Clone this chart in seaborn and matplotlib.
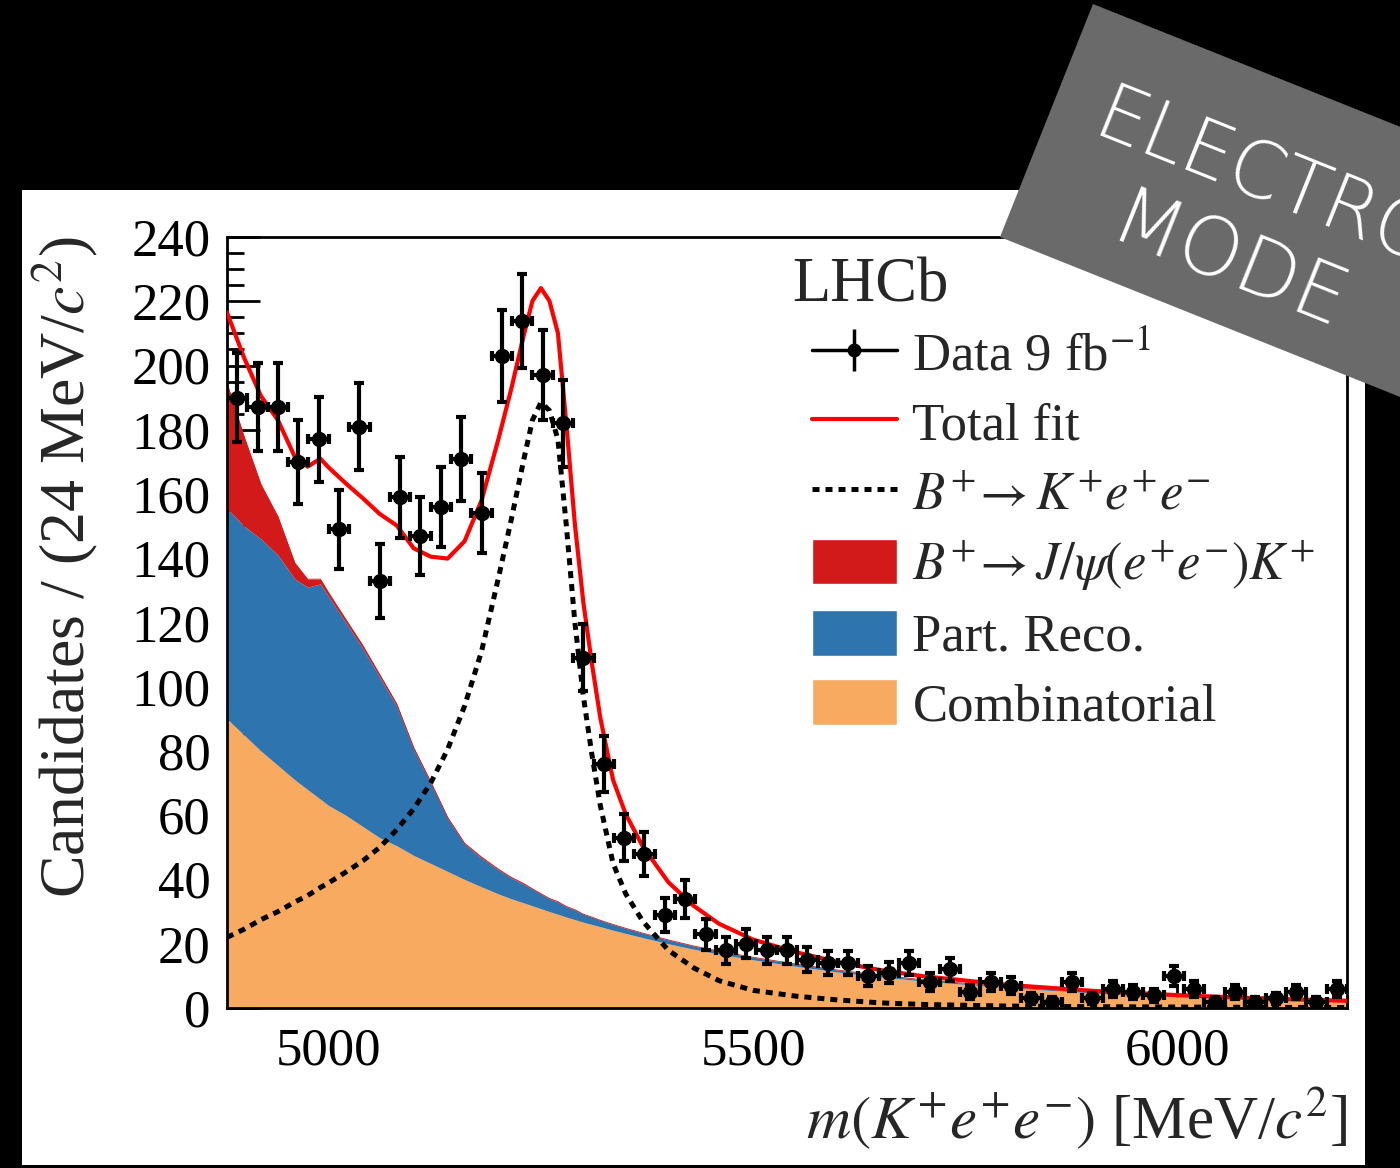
import numpy as np
import pandas as pd
import matplotlib
matplotlib.use('Agg')
import matplotlib.pyplot as plt
import seaborn as sns
from matplotlib.patches import Rectangle, Polygon, Patch
from matplotlib.lines import Line2D
from matplotlib.ticker import MultipleLocator

# ---- data: 24 MeV bins from 4880 to 6200 ----
bin_width = 24
bin_centres = np.arange(4892, 6200, bin_width)
counts = [190, 187, 187, 170, 177, 149, 181, 133, 159, 147,
          156, 171, 154, 203, 214, 197, 182, 109, 76, 53,
          48, 29, 34, 23, 18, 20, 18, 18, 15, 14,
          14, 10, 11, 14, 8, 12, 5, 8, 7, 3,
          2, 8, 3, 6, 5, 4, 10, 6, 2, 5,
          2, 3, 5, 2, 6]

# ---- fit components ----
mass = [4880, 4900, 4920, 4940, 4960, 4975, 4990, 5000, 5020, 5040,
        5060, 5080, 5100, 5120, 5140, 5160, 5180, 5200, 5215, 5230,
        5240, 5250, 5260, 5270, 5280, 5290, 5300, 5310, 5320, 5335,
        5350, 5370, 5400, 5430, 5460, 5500, 5550, 5600, 5650, 5700,
        5800, 5900, 6000, 6100, 6200]
comb = [90, 85, 80, 75.5, 71, 68, 65, 63, 60, 56.5,
        53, 50.5, 47.5, 45, 42.5, 40, 37.7, 35.5, 34, 32.7,
        31.8, 30.9, 30, 29.2, 28.3, 27.5, 26.7, 26, 25.3, 24.2,
        23.2, 21.9, 20, 18.3, 16.8, 15, 13, 11.2, 9.7, 8.4,
        6.3, 4.7, 3.5, 2.6, 2.0]
part_reco = [65.5, 65, 66, 65.5, 62.5, 63, 67, 65, 60, 55.5,
             50, 43.5, 33, 25, 16.5, 11, 9, 7.5, 6.5, 5.8,
             5.2, 4.6, 4, 3.8, 3.2, 3, 2.5, 2.3, 2, 1.8,
             1.6, 1.4, 1.2, 1, 0.9, 0.8, 0.7, 0.6, 0.5, 0.4,
             0.3, 0.25, 0.2, 0.15, 0.1]
jpsi = [39, 28, 17, 12, 5, 2.5, 1.5, 1.2, 1.0, 0.9,
        0.8, 0.7, 0.6, 0.5, 0.4, 0.3, 0.3, 0.2, 0.2, 0.2,
        0.1, 0.1, 0.1, 0.1, 0.1, 0.1, 0, 0, 0, 0,
        0, 0, 0, 0, 0, 0, 0, 0, 0, 0,
        0, 0, 0, 0, 0]
signal = [22, 24.5, 27.5, 30, 33, 35, 37.5, 39, 42.3, 45.8,
          50, 55.5, 62, 70, 80.5, 94, 111, 134, 152, 171,
          183, 188.5, 186, 177, 150, 120, 97, 79, 63, 45,
          35.5, 27, 18, 12.5, 8.5, 5.5, 3.7, 2.5, 1.6, 1.1,
          0.6, 0.4, 0.3, 0.2, 0.15]

fit = pd.DataFrame({'mass': mass, 'comb': comb, 'part_reco': part_reco,
                    'jpsi': jpsi, 'signal': signal})
fit['lvl1'] = fit.comb
fit['lvl2'] = fit.lvl1 + fit.part_reco
fit['lvl3'] = fit.lvl2 + fit.jpsi
fit['total'] = fit.lvl3 + fit.signal

data = pd.DataFrame({'mass': bin_centres, 'n': counts})
data['err'] = np.sqrt(data.n)

c_orange = '#f8aa60'
c_blue = '#2e75b0'
c_red = '#d21a1a'
dots = (0, (1.4, 1.2))

sns.set_theme(style='ticks')
plt.rcParams['font.family'] = ['Liberation Serif', 'DejaVu Serif']
plt.rcParams['mathtext.fontset'] = 'stix'

fig = plt.figure(figsize=(14, 11.68), dpi=100, facecolor='black')
fig.patches.append(Rectangle((22/1400, 3/1168), (1365-22)/1400, (1165-190)/1168,
                             transform=fig.transFigure, facecolor='white',
                             edgecolor='none', zorder=-5))
ax = fig.add_axes([227/1400, (1168-1008)/1168, 1120/1400, 771/1168])
ax.set_facecolor('white')

ax.fill_between(fit.mass, 0, fit.lvl1, color=c_orange, lw=0)
ax.fill_between(fit.mass, fit.lvl1, fit.lvl2, color=c_blue, lw=0)
ax.fill_between(fit.mass, fit.lvl2, fit.lvl3, color=c_red, lw=0)
ax.plot(fit.mass, fit.lvl3, color=c_red, lw=0.6)

sns.lineplot(data=fit, x='mass', y='signal', ax=ax, color='black', lw=3.6,
             linestyle=dots, zorder=3)
sns.lineplot(data=fit, x='mass', y='total', ax=ax, color='#ff0000', lw=3, zorder=4)

ax.errorbar(data.mass, data.n, yerr=data.err, xerr=bin_width/2, fmt='o',
            color='black', ms=10, elinewidth=3, capsize=3.5, capthick=3, zorder=5)

ax.set_xlim(4880, 6200)
ax.set_ylim(0, 240)
ax.xaxis.set_major_locator(MultipleLocator(500))
ax.xaxis.set_minor_locator(MultipleLocator(100))
ax.yaxis.set_major_locator(MultipleLocator(20))
ax.yaxis.set_minor_locator(MultipleLocator(5))
ax.tick_params(axis='both', which='both', direction='in', labelsize=38,
               colors='black', width=2, top=False, right=False)
ax.tick_params(axis='y', which='major', length=24, pad=12)
ax.tick_params(axis='y', which='minor', length=12)
ax.tick_params(axis='x', which='major', length=17, pad=14)
ax.tick_params(axis='x', which='minor', length=9)
for s in ax.spines.values():
    s.set_linewidth(2)
    s.set_color('black')

ax.set_xlabel(r'$m(K^{+}e^{+}e^{-})$ [MeV/$c^{2}$]', fontsize=44, loc='right')
ax.xaxis.set_label_coords(1.0, -0.10)
ax.set_ylabel(r'Candidates / (24 MeV/$c^{2}$)', fontsize=46, loc='top')
ax.yaxis.set_label_coords(-0.113, 1.0)

ax.text(0.505, 0.936, 'LHCb', transform=ax.transAxes, fontsize=45,
        ha='left', va='center')

h_data = (Line2D([], [], color='black', lw=2.5),
          Line2D([], [], marker='|', ms=30, mew=2.5, color='black', lw=0),
          Line2D([], [], marker='o', ms=9, color='black', lw=0))
handles = [h_data,
           Line2D([], [], color='#ff0000', lw=3),
           Line2D([], [], color='black', lw=3.6, linestyle=dots),
           Patch(facecolor=c_red),
           Patch(facecolor=c_blue),
           Patch(facecolor=c_orange)]
labels = [r'Data 9 fb$^{-1}$', 'Total fit',
          r'$B^{+}\!\rightarrow K^{+}e^{+}e^{-}$',
          r'$B^{+}\!\rightarrow J/\psi(e^{+}e^{-})K^{+}$',
          'Part. Reco.', 'Combinatorial']
ax.legend(handles, labels, loc='upper left', bbox_to_anchor=(0.5225, 0.88),
          frameon=False, fontsize=38, handlelength=1.6, handleheight=0.95,
          handletextpad=0.3, labelspacing=0.33, borderaxespad=0, borderpad=0)

# grey banner in the top right corner
u = np.array([0.928, 0.371])
tl = np.array([1093, 4])
bl = np.array([1000, 237])
pts = [tl, bl, bl + 700*u, tl + 700*u]
pts = [(p[0]/1400, 1 - p[1]/1168) for p in pts]
fig.add_artist(Polygon(pts, closed=True, transform=fig.transFigure,
                       facecolor='#6a6a6a', edgecolor='none', zorder=10))
fig.text(1090/1400, 1 - 135/1168, 'ELECTRON', color='white', fontsize=56,
         family='DejaVu Sans', fontweight='light', rotation=-21.8,
         rotation_mode='anchor', ha='left', va='baseline', zorder=11)
fig.text(1105/1400, 1 - 240/1168, 'MODE', color='white', fontsize=58,
         family='DejaVu Sans', fontweight='light', rotation=-21.8,
         rotation_mode='anchor', ha='left', va='baseline', zorder=11)

fig.savefig('out.png', dpi=100, facecolor=fig.get_facecolor())
